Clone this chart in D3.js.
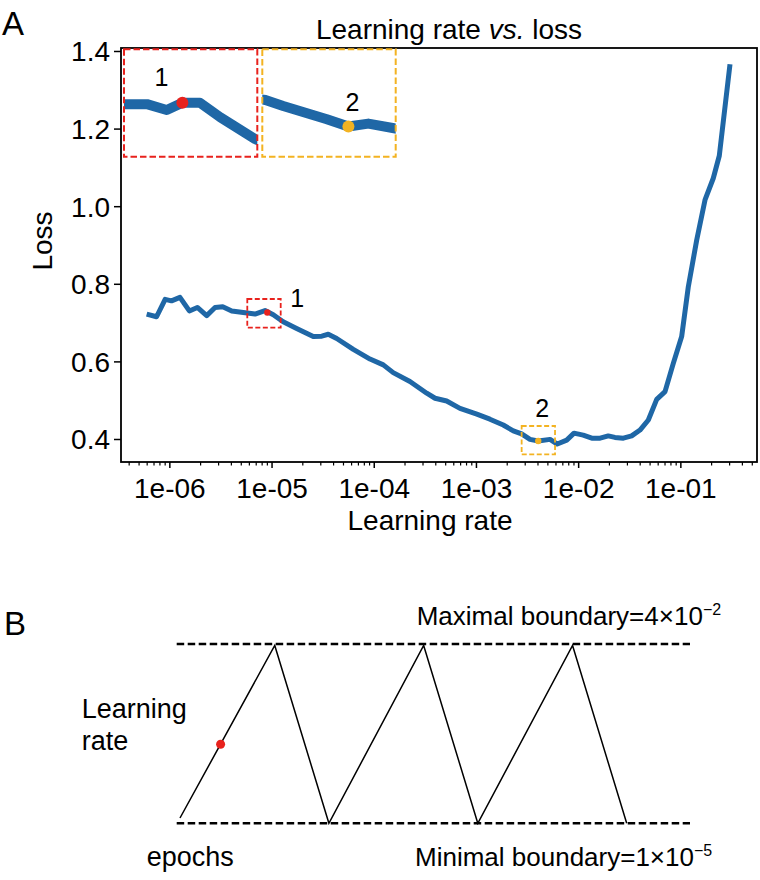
<!DOCTYPE html>
<html><head><meta charset="utf-8">
<script src="https://cdn.jsdelivr.net/npm/d3@7"></script>
<style>
body{margin:0;background:#fff}
text{font-family:"Liberation Sans",Arial,Helvetica,sans-serif;fill:#000}
</style>
</head><body>
<svg id="c" width="760" height="880"></svg>
<script>
// ---------- Panel A data ----------
const lrValues = [6.0e-7,7.5e-7,9.1e-7,1.05e-6,1.27e-6,1.57e-6,1.88e-6,2.32e-6,2.80e-6,3.33e-6,
  4.08e-6,5.29e-6,6.89e-6,8.63e-6,1.04e-5,1.30e-5,1.76e-5,2.56e-5,3.10e-5,3.59e-5,
  4.34e-5,6.31e-5,9.19e-5,1.24e-4,1.55e-4,2.26e-4,3.30e-4,3.98e-4,5.17e-4,6.98e-4,
  1.02e-3,1.37e-3,1.85e-3,2.32e-3,2.80e-3,3.38e-3,4.07e-3,5.31e-3,6.25e-3,7.73e-3,
  9.11e-3,1.12e-2,1.36e-2,1.64e-2,1.97e-2,2.29e-2,2.77e-2,3.34e-2,4.03e-2,4.86e-2,
  5.87e-2,7.08e-2,8.53e-2,0.103,0.1196,0.1446,0.1743,0.210,0.2405,0.306];
const lossValues = [0.722,0.715,0.760,0.756,0.765,0.730,0.739,0.718,0.739,0.741,
  0.730,0.726,0.722,0.731,0.720,0.702,0.685,0.664,0.665,0.670,
  0.659,0.631,0.606,0.591,0.571,0.548,0.518,0.505,0.498,0.479,
  0.464,0.451,0.436,0.421,0.413,0.399,0.395,0.399,0.387,0.397,
  0.415,0.410,0.402,0.402,0.408,0.404,0.402,0.408,0.423,0.449,
  0.502,0.522,0.595,0.664,0.792,0.913,1.016,1.072,1.130,1.366];
const yTickValues = [0.4,0.6,0.8,1.0,1.2,1.4];
const xMajorTicks = [1e-6,1e-5,1e-4,1e-3,1e-2,1e-1];
const xTickLabels = ["1e-06","1e-05","1e-04","1e-03","1e-02","1e-01"];
const highlightLabels = ["1","2"];
const highlightLr = [9.09e-6,4.07e-3];
const highlightLoss = [0.726,0.395];
// zoom windows (lr range, loss range) shown by the dashed boxes / insets
const windowLr = [[5.79e-6,1.229e-5],[2.80e-3,5.94e-3]];
const windowLoss = [[0.6868,0.7608],[0.3605,0.4335]];
// inset curves (zoomed detail)
const inset1Lr = [5.6e-6,5.89e-6,6.59e-6,7.37e-6,8.05e-6,8.89e-6,9.97e-6,1.213e-5,1.26e-5];
const inset1Loss = [0.723,0.723,0.723,0.719,0.724,0.724,0.714,0.699,0.697];
const inset2Lr = [2.7e-3,2.85e-3,3.15e-3,4.03e-3,4.55e-3,5.09e-3,5.84e-3,6.1e-3];
const inset2Loss = [0.400,0.399,0.395,0.386,0.381,0.383,0.380,0.379];
const insetDotLr = [8.05e-6,4.55e-3];
const insetDotLoss = [0.724,0.381];

// ---------- Panel B data ----------
const cycleEpochs = [0,7,11,18,22,29,33];
const cycleLr = [0.0012,0.04,0.00001,0.04,0.00001,0.04,0.00001];
const boundaryLr = [4e-2,1e-5];
const markerEpoch = [3];
const markerLr = [0.0178];

// ---------- styles ----------
const blue = "#1f67a6", red = "#e8221d", yellow = "#f3b322";
const hlColors = [red, yellow];

const svg = d3.select("#c");
svg.append("rect").attr("width",760).attr("height",880).attr("fill","#fff");

// ===== Panel A =====
const P = {left:121,right:757,top:48,bottom:462};
const x = d3.scaleLog().domain([3.365e-7,0.5623]).range([P.left,P.right]);
const y = d3.scaleLinear().domain([0.3407,1.4077]).range([P.bottom,P.top]);

svg.append("text").attr("x",2).attr("y",35).attr("font-size",33).text("A");

// title
const title = svg.append("text").attr("x",449).attr("y",39).attr("text-anchor","middle").attr("font-size",28);
title.append("tspan").text("Learning rate ");
title.append("tspan").attr("font-style","italic").text("vs.");
title.append("tspan").text(" loss");

// x axis major
const xMajor = svg.append("g").attr("transform",`translate(0,${P.bottom})`)
  .call(d3.axisBottom(x).tickValues(xMajorTicks).tickSize(6).tickPadding(10)
    .tickFormat((d,i)=>xTickLabels[i]));
xMajor.select(".domain").remove();
xMajor.selectAll("line").attr("stroke","#000").attr("stroke-width",1.5);
xMajor.selectAll("text").attr("font-size",28);
// x minor
const minorTicks = x.ticks().filter(v=>!xMajorTicks.some(m=>Math.abs(m-v)/m<1e-6));
const xMinor = svg.append("g").attr("transform",`translate(0,${P.bottom})`)
  .call(d3.axisBottom(x).tickValues(minorTicks).tickSize(3.5).tickFormat(""));
xMinor.select(".domain").remove();
xMinor.selectAll("line").attr("stroke","#000").attr("stroke-width",1.2);

// y axis
const yAx = svg.append("g").attr("transform",`translate(${P.left},0)`)
  .call(d3.axisLeft(y).tickValues(yTickValues).tickSize(7).tickPadding(4).tickFormat(d3.format(".1f")));
yAx.select(".domain").remove();
yAx.selectAll("line").attr("stroke","#000").attr("stroke-width",1.5);
yAx.selectAll("text").attr("font-size",28).attr("dy","0.35em");

// frame
svg.append("rect").attr("x",P.left).attr("y",P.top).attr("width",P.right-P.left).attr("height",P.bottom-P.top)
  .attr("fill","none").attr("stroke","#000").attr("stroke-width",1.8);

// labels
svg.append("text").attr("x",430).attr("y",530).attr("text-anchor","middle").attr("font-size",28).text("Learning rate");
svg.append("text").attr("transform","translate(52,241) rotate(-90)").attr("text-anchor","middle").attr("font-size",28).text("Loss");

// main curve
const idx = d3.range(lrValues.length);
svg.append("path").datum(idx)
  .attr("d",d3.line().x(i=>x(lrValues[i])).y(i=>y(lossValues[i])))
  .attr("fill","none").attr("stroke",blue).attr("stroke-width",5)
  .attr("stroke-linejoin","round").attr("stroke-linecap","butt");

// highlight boxes + dots + labels
const mainLabelOffset = [[30,-6],[4,-24]];
highlightLabels.forEach((lab,k)=>{
  const x0 = x(windowLr[k][0]), x1 = x(windowLr[k][1]);
  const y0 = y(windowLoss[k][1]), y1 = y(windowLoss[k][0]);
  svg.append("rect").attr("x",x0).attr("y",y0).attr("width",x1-x0).attr("height",y1-y0)
    .attr("fill","none").attr("stroke",hlColors[k]).attr("stroke-width",1.8).attr("stroke-dasharray","5,2.5");
  const cx = x(highlightLr[k]), cy = y(highlightLoss[k]);
  svg.append("circle").attr("cx",cx).attr("cy",cy).attr("r",3.2).attr("fill",hlColors[k]);
  svg.append("text").attr("x",cx+mainLabelOffset[k][0]).attr("y",cy+mainLabelOffset[k][1])
    .attr("text-anchor","middle").attr("font-size",25).text(lab);
});

// insets
const insetBoxes = [{x0:124,x1:257.3,y0:49.3,y1:156.7},{x0:262.3,x1:395.7,y0:49.3,y1:156.7}];
const insetLrs = [inset1Lr,inset2Lr], insetLosses = [inset1Loss,inset2Loss];
const insetLabelOffset = [[-21,-17],[4,-16]];
insetBoxes.forEach((b,k)=>{
  const xi = d3.scaleLog().domain(windowLr[k]).range([b.x0,b.x1]);
  const yi = d3.scaleLinear().domain(windowLoss[k]).range([b.y1,b.y0]);
  const cid = "clip"+k;
  svg.append("clipPath").attr("id",cid).append("rect")
    .attr("x",b.x0).attr("y",b.y0).attr("width",b.x1-b.x0).attr("height",b.y1-b.y0);
  const g = svg.append("g").attr("clip-path",`url(#${cid})`);
  const ii = d3.range(insetLrs[k].length);
  g.append("path").datum(ii)
    .attr("d",d3.line().x(i=>xi(insetLrs[k][i])).y(i=>yi(insetLosses[k][i])))
    .attr("fill","none").attr("stroke",blue).attr("stroke-width",10).attr("stroke-linejoin","round");
  const cx = xi(insetDotLr[k]), cy = yi(insetDotLoss[k]);
  svg.append("circle").attr("cx",cx).attr("cy",cy).attr("r",6).attr("fill",hlColors[k]);
  svg.append("rect").attr("x",b.x0).attr("y",b.y0).attr("width",b.x1-b.x0).attr("height",b.y1-b.y0)
    .attr("fill","none").attr("stroke",hlColors[k]).attr("stroke-width",2).attr("stroke-dasharray","6.5,3");
  svg.append("text").attr("x",cx+insetLabelOffset[k][0]).attr("y",cy+insetLabelOffset[k][1])
    .attr("text-anchor","middle").attr("font-size",25).text(highlightLabels[k]);
});

// ===== Panel B =====
svg.append("text").attr("x",4).attr("y",635).attr("font-size",33).text("B");
const xb = d3.scaleLinear().domain([0,33]).range([180,626.7]);
const yb = d3.scaleLinear().domain([1e-5,4e-2]).range([823.3,645.5]);

boundaryLr.forEach(v=>{
  const off = v===4e-2 ? 1.5 : 0;
  svg.append("line").attr("x1",176.7).attr("x2",690).attr("y1",yb(v)-off).attr("y2",yb(v)-off)
    .attr("stroke","#000").attr("stroke-width",2.4).attr("stroke-dasharray","7.5,3.5");
});
svg.append("path").datum(d3.range(cycleEpochs.length))
  .attr("d",d3.line().x(i=>xb(cycleEpochs[i])).y(i=>yb(cycleLr[i])))
  .attr("fill","none").attr("stroke","#000").attr("stroke-width",1.5).attr("stroke-linejoin","miter");
svg.append("circle").attr("cx",xb(markerEpoch[0])).attr("cy",yb(markerLr[0])).attr("r",4.5).attr("fill",red);

const maxT = svg.append("text").attr("x",416.7).attr("y",625).attr("font-size",26);
maxT.append("tspan").text("Maximal boundary=4×10");
maxT.append("tspan").attr("font-size",16).attr("dy",-10).text("−2");
const minT = svg.append("text").attr("x",415).attr("y",866).attr("font-size",26);
minT.append("tspan").text("Minimal boundary=1×10");
minT.append("tspan").attr("font-size",16).attr("dy",-10).text("−5");

svg.append("text").attr("x",81.7).attr("y",718).attr("font-size",27).text("Learning");
svg.append("text").attr("x",81.7).attr("y",750).attr("font-size",27).text("rate");
svg.append("text").attr("x",146.7).attr("y",866).attr("font-size",27).text("epochs");
</script>
</body></html>
